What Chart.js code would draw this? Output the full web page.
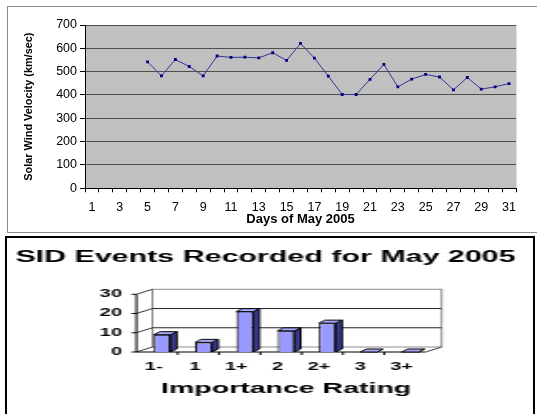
<!DOCTYPE html>
<html>
<head>
<meta charset="utf-8">
<script src="https://cdn.jsdelivr.net/npm/chart.js@4.4.1/dist/chart.umd.min.js"></script>
<style>
  html, body { margin: 0; padding: 0; background: #fff; overflow: hidden; }
  #topBox { position: absolute; left: 7px; top: 6px; width: 540px; height: 225px; border: 1px solid #8c8c8c; }
  #velo { position: absolute; left: 8px; top: 7px; }
  #botBox { position: absolute; left: 5px; top: 236px; width: 526px; height: 200px; border: 2px solid #000; overflow: hidden; }
  #sidWrap { position: absolute; left: 0; top: 0; transform: scaleX(1.9); transform-origin: 0 0; }
</style>
</head>
<body>
<div id="topBox"></div>
<canvas id="velo" width="529" height="225"></canvas>
<div id="botBox"><div id="sidWrap"><canvas id="sid" width="277" height="176"></canvas></div></div>
<script>
// Sonnenwind Mai 2005 + SID-Ereignisse
const days = ["1","2","3","4","5","6","7","8","9","10","11","12","13","14","15","16",
  "17","18","19","20","21","22","23","24","25","26","27","28","29","30","31"];
const velocity = [null, null, null, null, 542, 482, 552, 522, 482, 567, 561, 562, 559, 581, 548,
  621, 558, 481, 402, 402, 467, 531, 435, 468, 488, 477, 422, 475, 425, 435, 449];

const ratings = ["1-", "1", "1+", "2", "2+", "3", "3+"];
const sidCounts = [9, 5, 21, 11, 15, 0, 0];

Chart.defaults.font.family = "'Liberation Sans', Arial, sans-serif";
Chart.defaults.color = "#000";

// grauer Plot-Hintergrund (Excel-Stil)
const plotBg = {
  id: "plotBg",
  beforeDraw(chart) {
    const { ctx, chartArea: a } = chart;
    ctx.save();
    ctx.fillStyle = "#c0c0c0";
    ctx.fillRect(a.left, a.top, a.right - a.left, a.bottom - a.top);
    ctx.strokeStyle = "#dedede";
    ctx.lineWidth = 1;
    ctx.beginPath();
    ctx.moveTo(Math.round(a.right) + 0.5, a.top);
    ctx.lineTo(Math.round(a.right) + 0.5, a.bottom);
    ctx.stroke();
    ctx.restore();
  }
};

new Chart(document.getElementById("velo"), {
  type: "line",
  data: {
    labels: days,
    datasets: [{
      data: velocity,
      borderColor: "#35359a",
      borderWidth: 1,
      pointStyle: "rect",
      pointRadius: 2,
      pointBackgroundColor: "#000080",
      pointBorderColor: "#000080",
      pointBorderWidth: 0,
      tension: 0
    }]
  },
  options: {
    responsive: false, animation: false, devicePixelRatio: 1,
    layout: { padding: { top: 18, right: 21, left: 0, bottom: 0 } },
    plugins: { legend: { display: false }, tooltip: { enabled: false } },
    scales: {
      x: {
        offset: true,
        grid: { offset: true, drawOnChartArea: false, drawTicks: true, tickLength: 4, color: "#000" },
        border: { color: "#000" },
        ticks: {
          autoSkip: false, maxRotation: 0, padding: 7.8, font: { size: 12.5 },
          callback: (v, i) => (i % 2 === 0 ? days[i] : "")
        },
        title: { display: true, text: "Days of May 2005", font: { size: 13, weight: "bold" }, padding: { top: 0, bottom: 5 } },
        afterFit: (s) => { s.height = 43.7; }
      },
      y: {
        min: 0, max: 700,
        ticks: { stepSize: 100, padding: 3, font: { size: 12.5 } },
        grid: { color: "#4e4e4e", tickColor: "#000", tickLength: 5 },
        border: { color: "#000" },
        title: {
          display: true, text: "Solar Wind Velocity (km/sec)",
          font: { size: 10.9, weight: "bold" },
          padding: { top: 14.5, bottom: 0 }
        },
        afterFit: (s) => { s.width = 77; }
      }
    }
  },
  plugins: [plotBg]
});

// 3D-Wände, Boden und Achsen (Excel-Look), Einheiten im gestauchten Canvas
const OFF = 2.7, DX = 8.4, DY = -5;
const walls3d = {
  id: "walls3d",
  beforeDatasetsDraw(chart) {
    const { ctx, chartArea: a } = chart;
    const ys = chart.scales.y;
    const fl = a.left - OFF, fr = a.right - OFF, ft = a.top, fb = a.bottom;
    ctx.save();
    ctx.lineWidth = 1;
    // Rückwand
    ctx.fillStyle = "#fff";
    ctx.strokeStyle = "#8c8c8c";
    ctx.fillRect(fl + DX, ft + DY, fr - fl, fb - ft);
    ctx.strokeRect(fl + DX, ft + DY, fr - fl, fb - ft);
    // Gitterlinien + Seitenwand
    [0, 10, 20, 30].forEach(v => {
      const y = ys.getPixelForValue(v);
      if (v === 10 || v === 20) {
        ctx.strokeStyle = "#222";
        ctx.beginPath(); ctx.moveTo(fl + DX, y + DY); ctx.lineTo(fr + DX, y + DY); ctx.stroke();
      }
      ctx.strokeStyle = "#333";
      ctx.beginPath(); ctx.moveTo(fl, y); ctx.lineTo(fl + DX, y + DY); ctx.stroke();
      // Teilstrich links
      ctx.strokeStyle = "#000";
      ctx.beginPath(); ctx.moveTo(fl - 2.6, y); ctx.lineTo(fl, y); ctx.stroke();
    });
    // Boden
    ctx.strokeStyle = "#333";
    ctx.beginPath(); ctx.moveTo(fr, fb); ctx.lineTo(fr + DX, fb + DY); ctx.stroke();
    ctx.strokeStyle = "#000";
    ctx.beginPath(); ctx.moveTo(fl, fb); ctx.lineTo(fr, fb); ctx.stroke();
    ctx.beginPath(); ctx.moveTo(fl, ft); ctx.lineTo(fl, fb); ctx.stroke();
    const cw = (fr - fl) / ratings.length;
    for (let k = 1; k < ratings.length; k++) {
      ctx.beginPath(); ctx.moveTo(fl + k * cw, fb); ctx.lineTo(fl + k * cw, fb + 3); ctx.stroke();
    }
    ctx.restore();
  },
  afterDatasetsDraw(chart) {
    const { ctx } = chart;
    const bd = 3.2, bdy = -3;
    ctx.save();
    ctx.lineWidth = 1;
    ctx.strokeStyle = "#000";
    chart.getDatasetMeta(0).data.forEach(b => {
      const l = b.x - b.width / 2, r = b.x + b.width / 2, t = b.y, base = b.base;
      // Seite
      ctx.fillStyle = "#3a3a96";
      ctx.beginPath();
      ctx.moveTo(r, t); ctx.lineTo(r + bd, t + bdy); ctx.lineTo(r + bd, base + bdy); ctx.lineTo(r, base);
      ctx.closePath(); ctx.fill(); ctx.stroke();
      // Deckel
      ctx.fillStyle = "#a9a9ff";
      ctx.beginPath();
      ctx.moveTo(l, t); ctx.lineTo(l + bd, t + bdy); ctx.lineTo(r + bd, t + bdy); ctx.lineTo(r, t);
      ctx.closePath(); ctx.fill(); ctx.stroke();
    });
    ctx.restore();
  }
};

new Chart(document.getElementById("sid"), {
  type: "bar",
  data: {
    labels: ratings,
    datasets: [{
      data: sidCounts,
      backgroundColor: "#9999ff",
      borderColor: "#000",
      borderWidth: 1,
      barPercentage: 0.41,
      categoryPercentage: 1
    }]
  },
  options: {
    responsive: false, animation: false, devicePixelRatio: 1,
    layout: { padding: { top: 0, right: 5, left: 0, bottom: 0 } },
    plugins: {
      legend: { display: false }, tooltip: { enabled: false },
      title: {
        display: true, text: "SID Events Recorded for May 2005",
        font: { size: 16, weight: "bold" }, color: "#000",
        padding: { top: 10, bottom: 27.1 }
      }
    },
    scales: {
      x: {
        grid: { display: false, drawTicks: false },
        border: { display: false },
        ticks: { padding: 8.8, labelOffset: -4.4, maxRotation: 0, font: { size: 10.5, weight: "bold" } },
        title: { display: true, text: "Importance Rating", font: { size: 15, weight: "bold" }, padding: { top: 0, bottom: 16 } },
        afterFit: (s) => { s.height = 62; }
      },
      y: {
        min: 0, max: 30,
        grid: { display: false, drawTicks: false },
        border: { display: false },
        ticks: { stepSize: 10, padding: 10.3, font: { size: 10.5, weight: "bold" } },
        afterFit: (s) => { s.width = 70.8; }
      },
      y2: {
        position: "right", display: true,
        grid: { display: false, drawTicks: false },
        border: { display: false },
        ticks: { display: false },
        afterFit: (s) => { s.width = 49; }
      }
    }
  },
  plugins: [walls3d]
});
</script>
</body>
</html>
